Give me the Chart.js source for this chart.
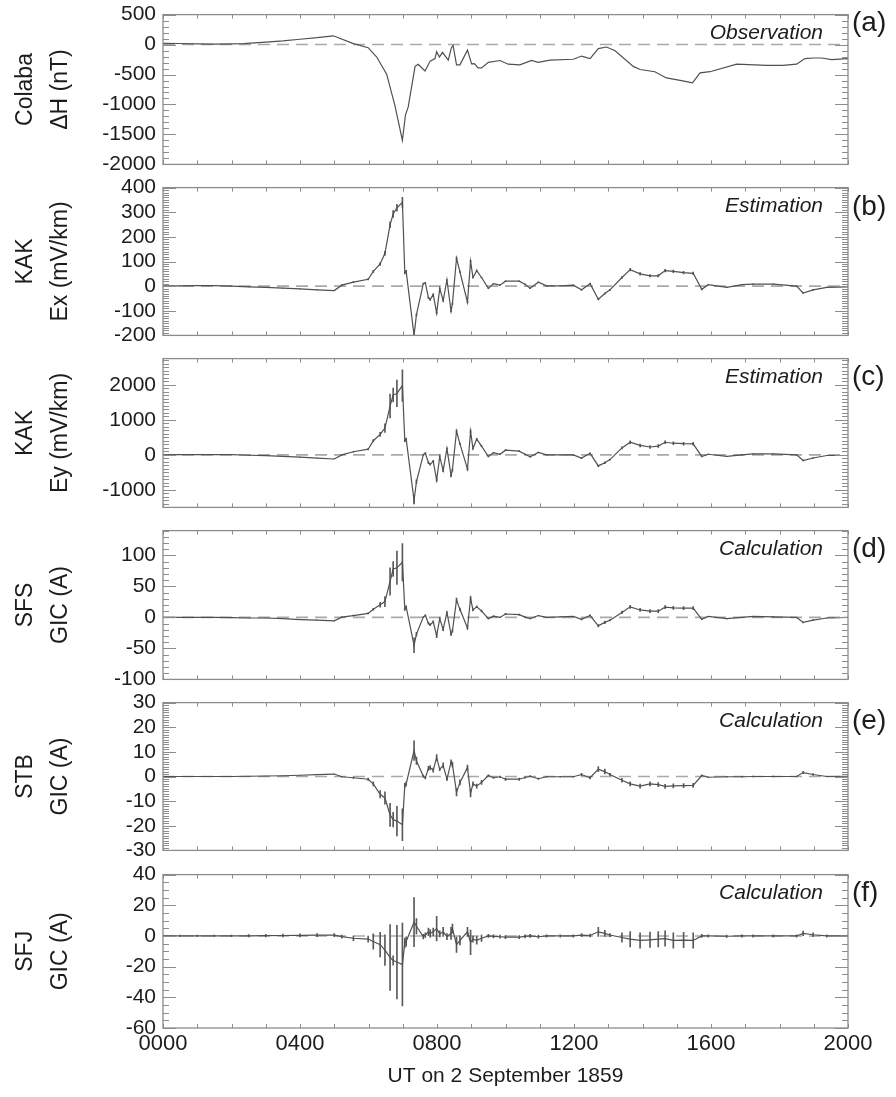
<!DOCTYPE html>
<html>
<head>
<meta charset="utf-8">
<script src="https://cdn.jsdelivr.net/npm/chart.js@4.4.0/dist/chart.umd.min.js"></script>
<style>
  body { margin: 0; background: #fff; width: 896px; height: 1097px; position: relative; overflow: hidden; }
  canvas { position: absolute; left: 0; }
</style>
</head>
<body>
<canvas id="pa"></canvas>
<canvas id="pb"></canvas>
<canvas id="pc"></canvas>
<canvas id="pd"></canvas>
<canvas id="pe"></canvas>
<canvas id="pf"></canvas>
<script>
// --- data (x in hours UT) ---
const colabaHours = [0, 0.5, 1, 1.5, 2, 2.35, 3, 3.5, 4.0, 4.5, 4.97, 5.56, 5.99, 6.24, 6.53, 6.77, 6.99, 7.08, 7.16, 7.36,
  7.45, 7.65, 7.80, 7.94, 7.99, 8.07, 8.16, 8.33, 8.42, 8.47, 8.57, 8.67, 8.89, 9.01, 9.09, 9.2, 9.3, 9.5, 9.84, 10.08,
  10.42, 10.76, 10.95, 11.3, 11.98, 12.22, 12.47, 12.71, 12.95, 13.2, 13.73, 13.93, 14.36, 14.7, 15.1, 15.46, 15.68, 15.97, 16.75, 17.62,
  18.1, 18.5, 18.74, 18.99, 19.23, 19.52, 20];
const colabaDH = [20, 18, 12, 8, 10, 15, 40, 60, 89, 115, 146, 16, -52, -208, -494, -1016, -1598, -1172, -1041, -364,
  -328, -442, -276, -234, -119, -208, -130, -260, -52, -16, -338, -338, -94, -322, -317, -390, -390, -297, -266, -328,
  -338, -266, -297, -260, -245, -192, -234, -67, -41, -104, -364, -416, -453, -557, -598, -640, -473, -453, -328, -348,
  -348, -328, -234, -224, -224, -250, -234];

const hours = [0, 0.5, 1, 1.5, 2, 2.5, 3, 3.5, 4, 4.5,
  5, 5.22, 5.56, 5.99, 6.14, 6.34, 6.48, 6.63, 6.72, 6.83,
  6.99, 7.06, 7.1, 7.33, 7.4, 7.6, 7.66, 7.75, 7.8, 7.89,
  7.99, 8.08, 8.18, 8.29, 8.41, 8.45, 8.57, 8.67, 8.89, 8.98,
  9.05, 9.16, 9.3, 9.5, 9.65, 9.84, 10, 10.4, 10.57, 10.72,
  10.96, 11.2, 11.6, 11.98, 12.22, 12.47, 12.71, 12.9, 13.05, 13.4,
  13.64, 13.93, 14.22, 14.46, 14.66, 14.9, 15.2, 15.48, 15.73, 15.92,
  16.46, 16.9, 17.23, 17.82, 18.5, 18.69, 18.98, 19.38, 20];

const kakEx = [0, 1, 2, 2, 0, -3, -5, -8, -11, -15,
  -18, 4, 16, 28, 60, 90, 133, 249, 293, 318,
  340, 54, 60, -200, -116, 10, 13, -47, -55, -34,
  -109, -9, -59, 25, -101, -72, 113, 58, -65, 101,
  35, 63, 35, -9, 10, 4, 20, 20, 8, -9,
  16, 1, 1, 4, -15, 10, -53, -30, -15, 35,
  67, 50, 42, 42, 63, 60, 55, 52, -13, 6,
  -5, 6, 8, 8, 0, -28, -15, -5, -3];
const kakExErr = [0, 0, 0, 0, 0, 0, 0, 0, 0, 0,
  0, 2, 2, 3, 4, 6, 8, 12, 14, 14,
  20, 4, 4, 6, 4, 2, 2, 3, 3, 3,
  4, 2, 3, 2, 4, 3, 5, 3, 3, 4,
  2, 3, 2, 1, 1, 1, 2, 2, 1, 1,
  1, 1, 1, 1, 2, 2, 3, 3, 2, 4,
  5, 5, 5, 5, 5, 5, 5, 5, 2, 1,
  1, 1, 1, 1, 1, 2, 2, 1, 1];

const kakEy = [0, 5, 8, 10, 5, -10, -20, -40, -65, -90,
  -117, 0, 90, 162, 405, 585, 765, 1395, 1710, 1755,
  1980, 405, 450, -1300, -765, 0, 45, -225, -270, -180,
  -720, -45, -450, 180, -585, -432, 675, 315, -405, 675,
  180, 450, 252, -45, 63, 18, 135, 108, 18, -54,
  72, 0, 0, 0, -90, 45, -315, -225, -135, 200,
  360, 270, 225, 252, 360, 333, 320, 315, -45, 18,
  -45, 0, 27, 27, 0, -162, -90, -18, -18];
const kakEyErr = [0, 0, 0, 0, 0, 0, 0, 0, 0, 0,
  0, 10, 15, 20, 30, 60, 120, 340, 200, 380,
  450, 30, 30, 100, 50, 20, 20, 25, 25, 25,
  40, 15, 30, 20, 35, 30, 40, 25, 30, 40,
  20, 25, 20, 10, 10, 10, 15, 15, 10, 10,
  10, 5, 5, 5, 15, 15, 25, 25, 15, 30,
  40, 40, 40, 40, 40, 40, 40, 40, 10, 5,
  5, 5, 5, 5, 5, 12, 10, 5, 5];

const gicSFS = [0, 0, 0, 0, -0.5, -1, -1, -2, -3.5, -4.5,
  -5.5, 0.5, 3, 6.5, 13, 20.5, 25.5, 58, 78, 80,
  89, 13, 17, -45, -27, 0.5, 3, -9.5, -12, -7,
  -29.5, -2, -19.5, 8, -27, -22, 28, 13, -17, 30.5,
  12, 17, 10.5, -2, 2, 0, 5.5, 4.5, 0.5, -2,
  3, 0, 1, 1.5, -3, 3, -13.5, -8, -4.5, 8,
  17, 12, 10, 10, 16.5, 15.5, 15, 15, -3, 1.5,
  -2, 0, 1.5, 1, 0, -8, -4.5, -1, 0];
const gicSFSErr = [0, 0, 0, 0, 0, 0, 0, 0, 0, 0,
  0, 0.5, 0.7, 1, 1.5, 4, 8, 22, 12, 27,
  30, 1.5, 1.5, 12, 3, 1, 1, 1.5, 1.5, 1.5,
  3, 1, 2, 1, 2, 2, 3, 2, 2, 3,
  1.5, 1.5, 1.5, 0.5, 0.5, 0.5, 1, 1, 0.5, 0.5,
  0.5, 0.3, 0.3, 0.3, 1, 1, 2, 2, 1, 2,
  2.5, 2.5, 2.5, 2.5, 2.5, 2.5, 2.5, 2.5, 0.5, 0.3,
  0.3, 0.3, 0.3, 0.3, 0.3, 1, 0.8, 0.3, 0.3];

const gicSTB = [0, 0, 0, 0, 0, 0.1, 0.2, 0.3, 0.5, 0.8,
  1, -0.1, -0.5, -1.1, -3, -7.2, -8.7, -15.6, -17.5, -18.1,
  -19.6, -3.6, -3, 10.5, 6.4, 0.1, -0.5, 3.3, 3.6, 2.6,
  7.7, 2.9, 4.5, -1.1, 5.8, 4.9, -6.4, -2.4, 3.6, -6.8,
  -3, -3.9, -2.4, 0.4, -0.5, -0.1, -1.1, -1.1, -0.4, 0.1,
  -0.9, -0.1, -0.1, -0.1, 0.8, -0.5, 3, 2, 0.8, -1.5,
  -3, -3.9, -3, -3.3, -4, -3.8, -3.7, -3.6, 0.4, -0.3,
  -0.1, -0.1, 0, 0, 0, 1.6, 0.8, 0, 0.1];
const gicSTBErr = [0, 0, 0, 0, 0, 0, 0, 0, 0, 0,
  0, 0.2, 0.3, 0.5, 0.8, 1.5, 2.5, 4.7, 3, 6,
  6.5, 0.8, 0.8, 4, 1.5, 0.5, 0.5, 0.8, 0.8, 0.8,
  1.2, 0.5, 1, 0.5, 1, 1, 1.5, 1, 1, 1.5,
  0.8, 0.8, 0.8, 0.3, 0.3, 0.3, 0.5, 0.5, 0.3, 0.3,
  0.3, 0.2, 0.2, 0.2, 0.5, 0.5, 1, 1, 0.5, 0.8,
  0.8, 0.8, 0.8, 0.8, 0.8, 0.8, 0.8, 0.8, 0.3, 0.2,
  0.2, 0.2, 0.2, 0.2, 0.2, 0.5, 0.4, 0.2, 0.2];

const gicSFJ = [0, 0, 0, 0, 0, 0.1, 0.2, 0.3, 0.4, 0.5,
  0.6, -0.4, -1.5, -2, -3.6, -5.7, -9.2, -14, -16, -17,
  -18.6, -4.6, -3.6, 9, 6.3, -0.4, 0.6, 2.7, 1.7, 2.7,
  4.8, 1.3, 2.7, -0.4, 1.7, 4.8, -5.7, -2.9, 2.7, -4.2,
  -2.1, -2.9, -1.5, 0, -0.3, -0.5, -0.8, -0.8, -0.3, 0,
  -0.5, 0, 0, 0, 0.5, 0.3, 2.7, 1.7, 0.6, -1,
  -2.1, -2.9, -2.5, -2.1, -1.7, -2.9, -2.7, -2.9, 0, 0,
  -0.2, 0, 0, 0, 0, 1.7, 0.8, 0, 0];
const gicSFJErr = [0.5, 0.5, 0.5, 0.5, 0.5, 0.8, 0.8, 1, 1, 1,
  1, 1, 1.5, 2, 5, 8, 10, 21.5, 3, 24,
  27, 3, 3, 16, 5, 1.5, 1.5, 2.5, 2.5, 2.5,
  8, 2, 3, 2, 4, 3, 5, 3, 3, 8,
  2, 2.5, 2, 1, 1, 1, 1, 1, 1, 1,
  1, 0.8, 0.8, 0.8, 1, 1, 3, 2, 1, 3,
  5, 5, 5, 5, 5, 5, 5, 5, 1, 0.8,
  0.8, 0.8, 0.8, 0.8, 0.8, 1.5, 1.2, 0.8, 0.8];

// tick labels
const xTickHours = [0, 4, 8, 12, 16, 20];
const xTickLabels = ['0000', '0400', '0800', '1200', '1600', '2000'];
const ticksA = [500, 0, -500, -1000, -1500, -2000];
const ticksB = [400, 300, 200, 100, 0, -100, -200];
const ticksC = [2000, 1000, 0, -1000];
const ticksD = [100, 50, 0, -50, -100];
const ticksE = [30, 20, 10, 0, -10, -20, -30];
const ticksF = [40, 20, 0, -20, -40, -60];

const FONT = '"Liberation Sans", Arial, Helvetica, sans-serif';
const INK = '#1c1c1c';
const AXIS = '#8c8c8c';
Chart.defaults.font.family = FONT;
Chart.defaults.color = INK;

// panel frame, minor ticks and labels
const framePlugin = {
  id: 'frame',
  afterDraw(chart, args, o) {
    const { ctx, chartArea: a, scales: { x, y } } = chart;
    ctx.save();
    ctx.strokeStyle = AXIS;
    ctx.lineWidth = 1.3;
    ctx.strokeRect(a.left, a.top, a.right - a.left, a.bottom - a.top);
    ctx.beginPath();
    ctx.lineWidth = 1;
    const n0 = Math.ceil(y.min / o.minor), n1 = Math.floor(y.max / o.minor);
    for (let n = n0; n <= n1; n++) {
      const v = n * o.minor;
      const py = Math.round(y.getPixelForValue(v)) + 0.5;
      const len = Math.abs(v % o.major) < 1e-9 ? 13 : 6;
      ctx.moveTo(a.left, py); ctx.lineTo(a.left + len, py);
      ctx.moveTo(a.right, py); ctx.lineTo(a.right - len, py);
    }
    for (let h = x.min; h <= x.max; h++) {
      const px = Math.round(x.getPixelForValue(h)) + 0.5;
      ctx.moveTo(px, a.top); ctx.lineTo(px, a.top + 4);
      ctx.moveTo(px, a.bottom); ctx.lineTo(px, a.bottom - 4);
    }
    ctx.stroke();
    ctx.fillStyle = INK;
    ctx.textBaseline = 'middle';
    ctx.textAlign = 'right';
    ctx.font = 'italic 21px ' + FONT;
    ctx.fillText(o.note, a.right - 25, a.top + 19);
    ctx.textAlign = 'left';
    ctx.font = '28px ' + FONT;
    ctx.fillText(o.letter, a.right + 4, a.top + o.letterDy);
    ctx.restore();
  }
};

const panels = [
  { id: 'pa', top: 9, bottom: 170, x: colabaHours, v: colabaDH, err: null, min: -2000, max: 500, ticks: ticksA, major: 500, minor: 100,
    title: ['Colaba', 'ΔH (nT)'], note: 'Observation', letter: '(a)', letterDy: 9 },
  { id: 'pb', top: 182, bottom: 341, x: hours, v: kakEx, err: kakExErr, min: -200, max: 400, ticks: ticksB, major: 100, minor: 10,
    title: ['KAK', 'Ex (mV/km)'], note: 'Estimation', letter: '(b)', letterDy: 20 },
  { id: 'pc', top: 353, bottom: 513, x: hours, v: kakEy, err: kakEyErr, min: -1500, max: 2750, ticks: ticksC, major: 1000, minor: 100,
    title: ['KAK', 'Ey (mV/km)'], note: 'Estimation', letter: '(c)', letterDy: 19 },
  { id: 'pd', top: 525, bottom: 685, x: hours, v: gicSFS, err: gicSFSErr, min: -100, max: 140, ticks: ticksD, major: 50, minor: 10,
    title: ['SFS', 'GIC (A)'], note: 'Calculation', letter: '(d)', letterDy: 19 },
  { id: 'pe', top: 697, bottom: 856, x: hours, v: gicSTB, err: gicSTBErr, min: -30, max: 30, ticks: ticksE, major: 10, minor: 1,
    title: ['STB', 'GIC (A)'], note: 'Calculation', letter: '(e)', letterDy: 19 },
  { id: 'pf', top: 869, bottom: 1028, x: hours, v: gicSFJ, err: gicSFJErr, min: -60, max: 40, ticks: ticksF, major: 20, minor: 5,
    title: ['SFJ', 'GIC (A)'], note: 'Calculation', letter: '(f)', letterDy: 19 }
];

const PAD = 14;
const XAXIS_H = 69;

panels.forEach((p, k) => {
  const last = k === panels.length - 1;
  const canvas = document.getElementById(p.id);
  const h = PAD + (p.bottom - p.top) + (last ? XAXIS_H : PAD);
  canvas.width = 896;
  canvas.height = h;
  canvas.style.top = (p.top - PAD) + 'px';
  canvas.style.width = '896px';
  canvas.style.height = h + 'px';

  const datasets = [{
    type: 'line',
    data: p.x.map((t, i) => ({ x: t, y: p.v[i] })),
    borderColor: '#505050',
    borderWidth: 1.2,
    pointRadius: 0,
    tension: 0
  }];
  if (p.err) {
    datasets.push({
      type: 'bar',
      data: p.x.map((t, i) => ({ x: t, y: [p.v[i] - p.err[i], p.v[i] + p.err[i]] })),
      backgroundColor: '#5a5a5a',
      barThickness: 1,
      maxBarThickness: 1,
      borderWidth: 0
    });
  }
  datasets.push({
    type: 'line',
    data: [{ x: 0, y: 0 }, { x: 20, y: 0 }],
    borderColor: '#a9a9a9',
    borderDash: [12, 7],
    borderWidth: 1.6,
    pointRadius: 0
  });

  const xScale = {
    type: 'linear',
    min: 0,
    max: 20,
    offset: false,
    display: last,
    afterBuildTicks: s => { s.ticks = xTickHours.map(v => ({ value: v })); },
    grid: { display: false, drawTicks: false, offset: false },
    border: { display: false },
    ticks: {
      autoSkip: false,
      maxRotation: 0,
      padding: 3,
      color: INK,
      font: { size: 22 },
      callback: v => xTickLabels[xTickHours.indexOf(v)]
    },
    title: {
      display: true,
      text: 'UT on 2 September 1859',
      color: INK,
      font: { size: 21 },
      padding: { top: 0, bottom: 8 }
    }
  };
  if (last) xScale.afterFit = s => { s.height = XAXIS_H; };

  new Chart(canvas, {
    type: 'line',
    data: { datasets },
    plugins: [framePlugin],
    options: {
      responsive: false,
      animation: false,
      events: [],
      layout: { padding: { left: 0, right: 48, top: PAD, bottom: last ? 0 : PAD } },
      plugins: {
        legend: { display: false },
        tooltip: { enabled: false },
        frame: { note: p.note, letter: p.letter, letterDy: p.letterDy, major: p.major, minor: p.minor }
      },
      scales: {
        x: xScale,
        y: {
          type: 'linear',
          min: p.min,
          max: p.max,
          afterFit: s => { s.width = 163; },
          afterBuildTicks: s => { s.ticks = p.ticks.map(v => ({ value: v })); },
          grid: { display: false, drawTicks: false },
          border: { display: false },
          ticks: {
            autoSkip: false,
            padding: 7,
            color: INK,
            font: { size: 21 },
            callback: v => String(v)
          },
          title: {
            display: true,
            text: p.title,
            color: INK,
            font: { size: 23, lineHeight: 1.52 },
            padding: { top: 8, bottom: 0 }
          }
        }
      }
    }
  });
});
</script>
</body>
</html>
